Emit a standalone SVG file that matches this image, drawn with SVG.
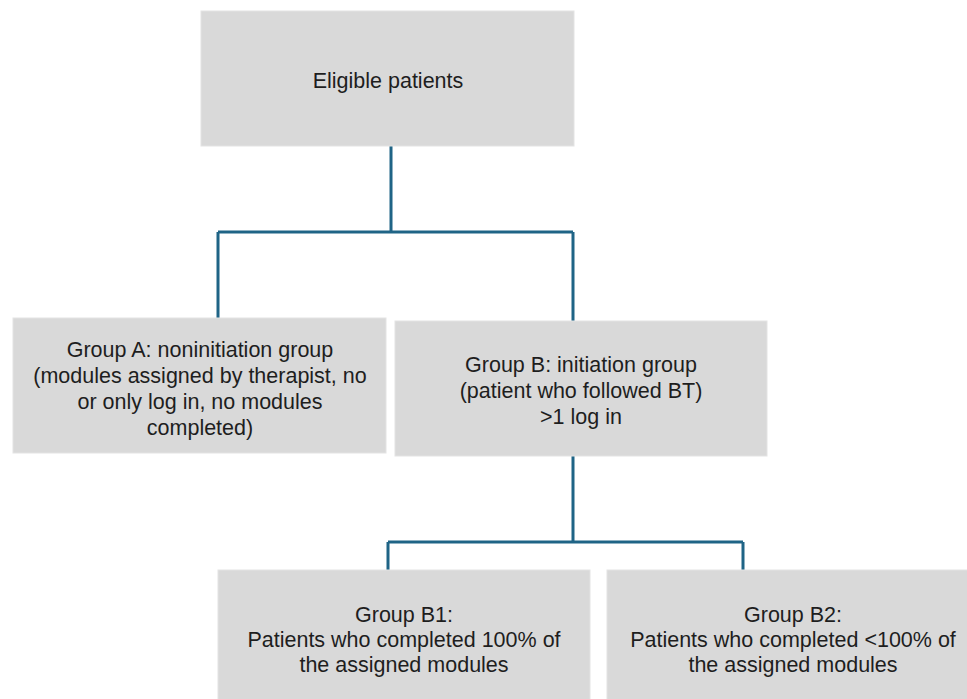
<svg xmlns="http://www.w3.org/2000/svg" width="967" height="699" viewBox="0 0 967 699">
<style>
.box{fill:#d9d9d9;stroke:#e3e3e3;stroke-width:1}
.t{font-family:"Liberation Sans",Arial,sans-serif;font-size:21.5px;fill:#1e1e1e;text-anchor:middle}
.c{fill:none;stroke:#1f6486;stroke-width:3}
</style>
<rect width="967" height="699" fill="#ffffff"/>
<g id="connectors">
<path class="c" d="M391,146 V232 M218,232 H573 M218,232 V318 M573,232 V321"/>
<path class="c" d="M573,456 V542 M388,542 H743 M388,542 V570 M743,542 V570"/>
</g>
<g id="eligible">
<rect class="box" x="201" y="11" width="373" height="135"/>
<text class="t" x="388" y="88">Eligible patients</text>
</g>
<g id="groupA">
<rect class="box" x="13" y="318" width="373" height="135"/>
<text class="t" x="200" y="357">Group A: noninitiation group</text>
<text class="t" x="200" y="383">(modules assigned by therapist, no</text>
<text class="t" x="200" y="409">or only log in, no modules</text>
<text class="t" x="200" y="435">completed)</text>
</g>
<g id="groupB">
<rect class="box" x="395" y="321" width="372" height="135"/>
<text class="t" x="581" y="372">Group B: initiation group</text>
<text class="t" x="581" y="398">(patient who followed BT)</text>
<text class="t" x="581" y="424">&gt;1 log in</text>
</g>
<g id="groupB1">
<rect class="box" x="218" y="570" width="372" height="135"/>
<text class="t" x="404" y="622">Group B1:</text>
<text class="t" x="404" y="647">Patients who completed 100% of</text>
<text class="t" x="404" y="672">the assigned modules</text>
</g>
<g id="groupB2">
<rect class="box" x="607" y="570" width="365" height="135"/>
<text class="t" x="793" y="622">Group B2:</text>
<text class="t" x="793" y="647">Patients who completed &lt;100% of</text>
<text class="t" x="793" y="672">the assigned modules</text>
</g>
</svg>
